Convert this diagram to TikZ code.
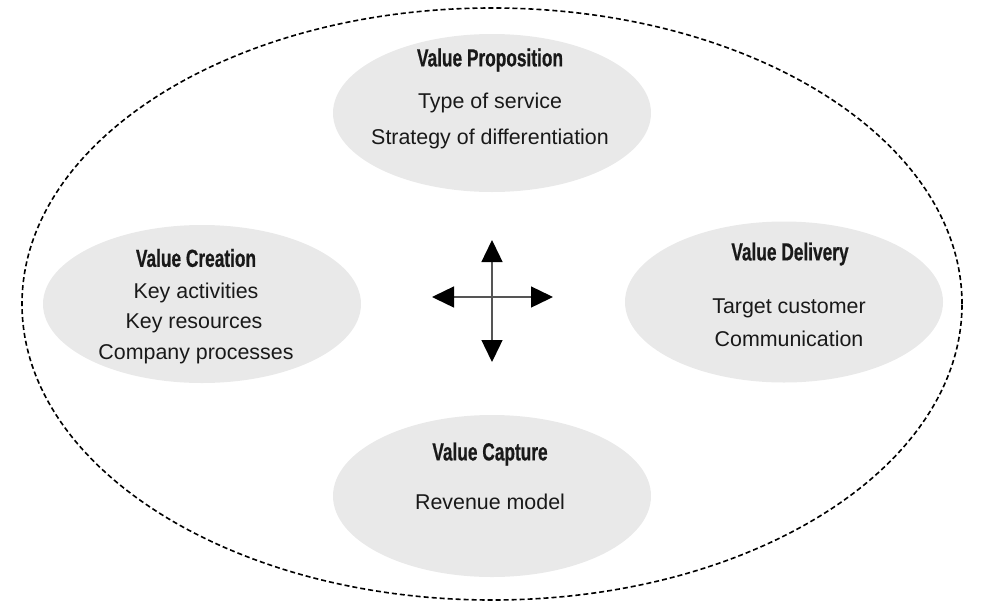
\documentclass[tikz,border=0pt]{standalone}
\usepackage{fontspec}
\setmainfont{Liberation Sans}
\newfontfamily\headfont[FakeStretch=0.7, FakeBold=0.6]{Liberation Sans}
\usetikzlibrary{arrows.meta, shapes.geometric}

\definecolor{blobgray}{HTML}{E9E9E9}
\definecolor{stemgray}{HTML}{555555}

\tikzset{
    blob/.style={ellipse, fill=blobgray, minimum width=318pt, minimum height=158pt, inner sep=0pt},
    headtext/.style={font=\headfont\bfseries\fontsize{24.7}{28}\selectfont, text=black!90},
    bodytext/.style={font=\fontsize{21.4}{25}\selectfont, text=black!90},
    crossarrow/.style={draw=stemgray, line width=1.4pt, -{Triangle[length=22pt, width=21pt, color=black]}}
}

\begin{document}
\begin{tikzpicture}[x=1pt, y=-1pt]
    \useasboundingbox (0,0) rectangle (981,608);

    % Outer boundary
    \draw[line width=1.6pt, dash pattern=on 5pt off 3pt] (492,304) ellipse (470pt and 296pt);

    % Four building blocks
    \node[blob] (proposition) at (492,113) {};
    \node[blob] (creation) at (202,304) {};
    \node[blob, minimum height=161pt] (delivery) at (784,302) {};
    \node[blob, minimum height=162pt] (capture) at (492,496) {};

    % Value Proposition
    \node[headtext] (propTitle) at (490,60) {Value Proposition};
    \node[bodytext] (propLineA) at (490,103) {Type of service};
    \node[bodytext] (propLineB) at (490,139) {Strategy of differentiation};

    % Value Creation
    \node[headtext] (creaTitle) at (196,258) {Value Creation};
    \node[bodytext] (creaLineA) at (196,293) {Key activities};
    \node[bodytext] (creaLineB) at (194,323) {Key resources};
    \node[bodytext] (creaLineC) at (196,354) {Company processes};

    % Value Delivery
    \node[headtext] (delivTitle) at (790,254) {Value Delivery};
    \node[bodytext] (delivLineA) at (789,308) {Target customer};
    \node[bodytext] (delivLineB) at (789,339) {Communication};

    % Value Capture
    \node[headtext] (captTitle) at (490,454) {Value Capture};
    \node[bodytext] (captLineA) at (490,502) {Revenue model};

    % Central cross
    \coordinate (hub) at (492,297);
    \coordinate (hubW) at (432,297);
    \coordinate (hubE) at (553,297);
    \coordinate (hubN) at (492,240);
    \coordinate (hubS) at (492,362);
    \draw[crossarrow] (hub) -- (hubW);
    \draw[crossarrow] (hub) -- (hubE);
    \draw[crossarrow] (hub) -- (hubN);
    \draw[crossarrow] (hub) -- (hubS);
\end{tikzpicture}
\end{document}
